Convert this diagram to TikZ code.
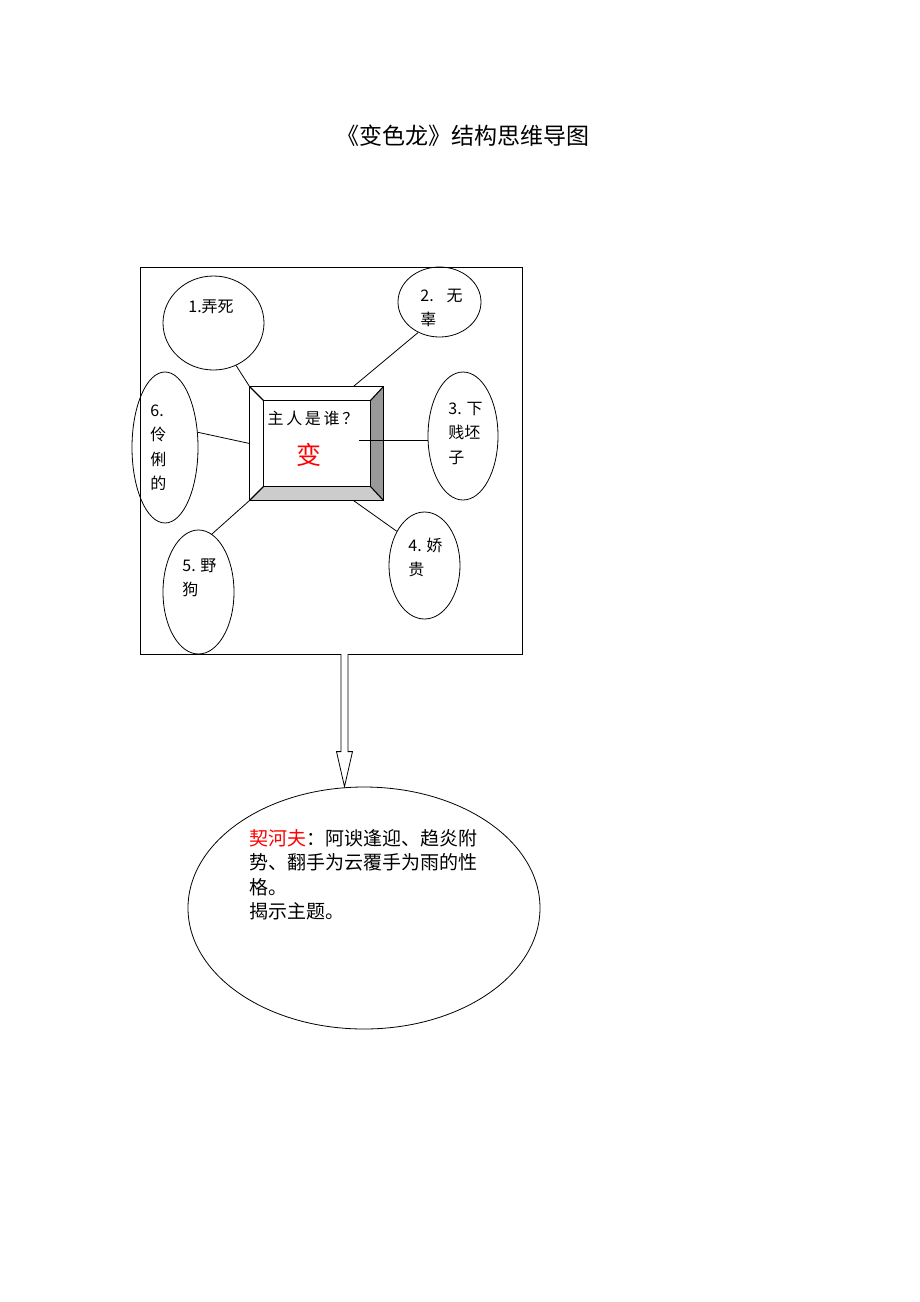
\documentclass[tikz,border=0pt]{standalone}
\usepackage{fontspec}
\setmainfont{Noto Sans CJK SC}
\usetikzlibrary{shapes.geometric,calc}
\definecolor{bevelDark}{HTML}{999999}
\definecolor{bevelLight}{HTML}{CCCCCC}
\begin{document}
\begin{tikzpicture}[x=1pt,y=-1pt,line width=0.8pt,
    bubble/.style={draw,ellipse,inner sep=0pt},
    tag/.style={anchor=base west,inner sep=0pt,align=left,font=\fontsize{16}{24.5}\selectfont}]
    \useasboundingbox (0,0) rectangle (920,1302);

    \node[font=\fontsize{23}{26}\selectfont] (title) at (463,136) {《变色龙》结构思维导图};
    \node[draw,minimum width=382pt,minimum height=387pt,inner sep=0pt] (frame) at (331,460.5) {};

    % the six bubbles
    \node[bubble,minimum width=101pt,minimum height=94pt] (e1) at (213.5,323) {};
    \node[bubble,minimum width=83pt,minimum height=70pt] (e2) at (439.5,302) {};
    \node[bubble,minimum width=70pt,minimum height=128pt] (e3) at (463,436) {};
    \node[bubble,minimum width=71pt,minimum height=107pt] (e4) at (424.5,565.5) {};
    \node[bubble,minimum width=71pt,minimum height=124pt] (e5) at (198.5,592) {};
    \node[bubble,minimum width=66pt,minimum height=151pt] (e6) at (165,447.5) {};

    % labels sit on the baseline of their last line
    \node[tag] (t1) at (188,312) {1.弄死};
    \node[tag] (t2) at (420,325.5) {2.\hspace{13pt}无\\辜};
    \node[tag] (t3) at (448,463) {3. 下\\贱坯\\子};
    \node[tag] (t4) at (408,575.5) {4. 娇\\贵};
    \node[tag] (t5) at (182,595.5) {5. 野\\狗};
    \node[tag] (t6) at (150,489.5) {6.\\伶\\俐\\的};

    % bevelled box in the middle
    \node[minimum width=133pt,minimum height=113pt,inner sep=0pt] (box) at (316.5,443.5) {};
    \node[minimum width=106pt,minimum height=85pt,inner sep=0pt] (inner) at (317,443.5) {};
    \fill[bevelDark] (box.north east) -- (box.south east) -- (inner.south east) -- (inner.north east) -- cycle;
    \fill[bevelLight] (box.south west) -- (box.south east) -- (inner.south east) -- (inner.south west) -- cycle;
    \draw[line width=1.3pt] (box.north west) rectangle (box.south east);
    \draw[line width=1.1pt] (inner.north west) rectangle (inner.south east);
    \foreach \c in {north west,north east,south west,south east}
        \draw[line width=1.1pt] (box.\c) -- (inner.\c);

    \node[font=\fontsize{16}{20}\selectfont,inner sep=0pt] (who) at (313,418) {主\,人\,是\,谁\,？};
    \node[font=\fontsize{25}{30}\selectfont,text=red,inner sep=0pt] (bian) at (309,455) {变};

    % links
    \coordinate (c3) at (359,440);
    \draw (e1.-62) -- (box.north west);
    \draw (e2.235) -- ($(box.north west)!0.775!(box.north east)$);
    \draw (c3) -- (c3 -| e3.west);
    \draw (e4.129) -- ($(box.south west)!0.775!(box.south east)$);
    \draw (e5.77) -- (box.south west);
    \draw (e6.25) -- (box.west);

    % result
    \node[bubble,minimum width=352pt,minimum height=242pt] (goal) at (364,908) {};
    \node[tag,font=\fontsize{19}{24.5}\selectfont] (verdict) at (249,918.5)
        {\textcolor{red}{契河夫}：阿谀逢迎、趋炎附\\势、翻手为云覆手为雨的性\\格。\\揭示主题。};

    \coordinate (tail) at (344.5,654);
    \coordinate (tip) at (tail |- goal.north);
    \draw[fill=white] ($(tail)+(-3.5,0)$) -- ($(tip)+(-3.5,-35)$) -- ($(tip)+(-8,-35)$) -- (tip)
        -- ($(tip)+(8,-35)$) -- ($(tip)+(3.5,-35)$) -- ($(tail)+(3.5,0)$);
\end{tikzpicture}
\end{document}
